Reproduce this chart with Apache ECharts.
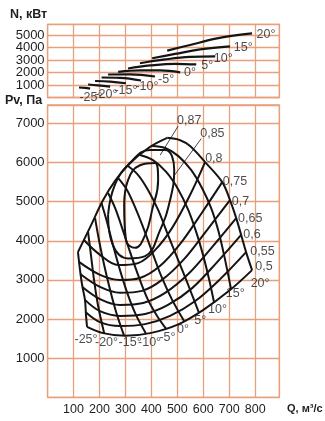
<!DOCTYPE html>
<html><head><meta charset="utf-8">
<script src="https://cdn.jsdelivr.net/npm/echarts@6/dist/echarts.min.js"></script>
<style>html,body{margin:0;padding:0;background:#fff}#c{width:325px;height:421px}</style>
</head><body><div id="c"></div>
<script>
// ---------- axis settings ----------
const qTicks = [100, 200, 300, 400, 500, 600, 700, 800];
const nTicks = [1000, 2000, 3000, 4000, 5000];
const pvTicks = [1000, 2000, 3000, 4000, 5000, 6000, 7000];

// ---------- lower plot: Pv vs Q for each blade angle ----------
const pv_m25 = [[117,3710],[125,3250],[133,2870],[144,2490],[148,2100],[152,1800]];
const pv_m20 = [[156,4220],[167,3640],[179,3000],[194,2360],[218,1640]];
const pv_m15 = [[183,4580],[198,4020],[218,3380],[241,2740],[264,2180],[295,1570]];
const pv_m10 = [[208,4960],[229,4480],[252,3890],[279,3250],[310,2610],[341,2100],[380,1620]];
const pv_m5  = [[233,5220],[260,4840],[287,4330],[318,3710],[353,3050],[387,2490],[422,2080],[457,1750]];
const pv_0   = [[272,5600],[306,5300],[337,4860],[372,4280],[407,3640],[441,3050],[480,2490],[526,1950]];
const pv_5   = [[310,5910],[349,5680],[387,5300],[426,4790],[464,4150],[503,3510],[542,2870],[584,2150]];
const pv_10  = [[356,6190],[406,6060],[457,5760],[503,5320],[542,4790],[573,4220],[599,3640],[623,3000],[642,2410]];
const pv_15  = [[403,6420],[453,6370],[503,6170],[553,5810],[595,5350],[630,4840],[657,4280],[680,3640],[707,2770]];
const pv_20  = [[461,6630],[511,6570],[549,6420],[607,6010],[673,5500],[703,5040],[727,4580],[746,4150],[765,3710],[788,3250]];
const stallLine = [[117,3710],[164,4350],[214,5040],[260,5530],[318,5990],[395,6400],[461,6630]];

// efficiency contours
const eff_50 = [[152,1800],[214,1640],[299,1570],[395,1640],[499,1850],[599,2230],[703,2740],[788,3250]];
const eff_55 = [[146,2180],[202,1920],[279,1820],[376,1870],[472,2080],[569,2460],[665,3020],[765,3710]];
const eff_60 = [[144,2490],[202,2200],[279,2080],[376,2130],[464,2360],[557,2790],[650,3430],[746,4150]];
const eff_65 = [[134,2820],[202,2510],[279,2360],[368,2410],[453,2670],[542,3150],[634,3840],[727,4580]];
const eff_70 = [[126,3150],[202,2820],[279,2670],[364,2720],[441,3000],[526,3530],[615,4280],[703,5040]];
const eff_75 = [[121,3460],[202,3130],[279,3000],[356,3050],[434,3360],[511,3920],[596,4730],[673,5500]];
const eff_80 = [[140,4020],[202,3640],[272,3380],[349,3430],[414,3760],[480,4330],[549,5170],[607,6010]];
const eff_85 = [[233,4660],[260,5440],[318,5990],[395,6320],[453,6320],[488,5810],[472,5040],[434,4280],[376,3610],[310,3550],[252,3880],[233,4660]];
const eff_87 = [[295,4910],[310,5550],[356,5930],[414,5990],[426,5550],[403,4790],[376,4150],[337,3820],[302,4020],[295,4910]];
const leader_87 = [[434,6190],[503,6930]];
const leader_85 = [[484,5630],[592,6610]];

const effLabelNames = ['0,87','0,85','0,8','0,75','0,7','0,65','0,6','0,55','0,5'];
const effLabelQ  = [499, 588, 607, 675, 710, 734, 754, 781, 800];
const effLabelPv = [7085, 6753, 6090, 5526, 4998, 4556, 4147, 3720, 3337];

const angleNames = ['-25°','-20°','-15°','-10°','-5°','0°','5°','10°','15°','20°'];
const angleLabelQ  = [148, 227, 318, 393, 462, 522, 588, 655, 723, 819];
const angleLabelPv = [1464, 1388, 1388, 1388, 1516, 1720, 1950, 2230, 2640, 2895];

// ---------- upper plot: N vs Q for each blade angle ----------
const n_m25 = [[121,800],[144,775],[164,710]];
const n_m20 = [[156,1040],[194,976],[241,864]];
const n_m15 = [[183,1320],[241,1270],[302,1140]];
const n_m10 = [[208,1600],[279,1575],[360,1360]];
const n_m5  = [[233,1840],[318,1855],[414,1680]];
const n_0   = [[272,2055],[356,2175],[434,2160],[511,2015]];
const n_5   = [[310,2320],[395,2560],[491,2695],[573,2640]];
const n_10  = [[356,2735],[453,3040],[549,3240],[646,3280]];
const n_15  = [[403,3135],[491,3480],[588,3840],[703,4080]];
const n_20  = [[461,3745],[549,4200],[653,4720],[723,4960],[788,5130]];
const nLabelQ = [167, 225, 302, 383, 457, 549, 615, 677, 754, 842];
const nLabelN = [-40, 200, 520, 840, 1400, 1960, 2520, 3080, 3960, 5000];

// ---------- styling ----------
const FONT = '"Liberation Sans", Arial, sans-serif';
const GRID = '#e7a07c';
const INK = '#141414';
const TXT = '#1e1e1e';

function curve(data, gi, w, smooth) {
  return {type:'line', data:data, xAxisIndex:gi, yAxisIndex:gi,
    smooth: smooth === undefined ? 0.35 : smooth, showSymbol:false, symbol:'none', silent:true,
    lineStyle:{color:INK, width:w || 2}, animation:false, z:3};
}
function labels(names, xs, ys, gi, pos) {
  return {type:'scatter', xAxisIndex:gi, yAxisIndex:gi, symbolSize:0.1, silent:true, clip:false,
    itemStyle:{color:'rgba(0,0,0,0)'}, animation:false, z:5,
    data: names.map((n,i)=>({name:n, value:[xs[i], ys[i]]})),
    label:{show:true, formatter:'{b}', position:pos, distance:0, color:TXT,
      fontFamily:FONT, fontSize:12.5}};
}
function axisX(gi, showLab) {
  return {gridIndex:gi, type:'value', min:0, max:893, interval:100,
    axisLine:{show:false}, axisTick:{show:false},
    axisLabel:{show:showLab, margin:6, color:TXT, fontFamily:FONT, fontSize:12.5,
      formatter: v => qTicks.indexOf(v) >= 0 ? String(v) : ''},
    splitLine:{show:true, lineStyle:{color:GRID, width:1.3}}};
}
function axisY(gi, max, ticks) {
  return {gridIndex:gi, type:'value', min:0, max:max, interval:1000,
    axisLine:{show:false}, axisTick:{show:false},
    axisLabel:{margin:3, color:TXT, fontFamily:FONT, fontSize:13,
      formatter: v => ticks.indexOf(v) >= 0 ? String(v) : ''},
    splitLine:{show:true, lineStyle:{color:GRID, width:1.3}}};
}

const series = [];
[n_m25,n_m20,n_m15,n_m10,n_m5,n_0,n_5,n_10,n_15,n_20].forEach(d => series.push(curve(d, 0, 2.2, 0.4)));
[pv_m25,pv_m20,pv_m15,pv_m10,pv_m5,pv_0,pv_5,pv_10,pv_15,pv_20].forEach(d => series.push(curve(d, 1, 2)));
series.push(curve(stallLine, 1, 2));
[eff_50,eff_55,eff_60,eff_65,eff_70,eff_75,eff_80].forEach(d => series.push(curve(d, 1, 2)));
[eff_85,eff_87].forEach(d => series.push(curve(d, 1, 2, 0.45)));
[leader_87, leader_85].forEach(d => series.push(curve(d, 1, 0.8, 0)));
series.push(labels(angleNames, nLabelQ, nLabelN, 0, 'inside'));
series.push(labels(angleNames, angleLabelQ, angleLabelPv, 1, 'inside'));
series.push(labels(effLabelNames, effLabelQ, effLabelPv, 1, 'right'));

const chart = echarts.init(document.getElementById('c'), null, {renderer:'canvas'});
chart.setOption({
  animation:false,
  backgroundColor:'#fff',
  grid:[
    {left:47.6, top:24.3, width:231.7, height:73.2, show:true, borderColor:GRID, borderWidth:1.3},
    {left:47.6, top:105, width:231.7, height:292.3, show:true, borderColor:GRID, borderWidth:1.3}
  ],
  xAxis:[axisX(0,false), axisX(1,true)],
  yAxis:[axisY(0,5850,nTicks), axisY(1,7470,pvTicks)],
  graphic:[
    {type:'text', left:10, top:8, style:{text:'N, кВт', fill:TXT, font:'bold 12.5px ' + FONT}},
    {type:'text', left:5, top:94, style:{text:'Pv, Па', fill:TXT, font:'bold 12.5px ' + FONT}},
    {type:'text', left:287, top:403, style:{text:'Q, м³/с', fill:TXT, font:'bold 11px ' + FONT}}
  ],
  series: series
});
</script></body></html>
